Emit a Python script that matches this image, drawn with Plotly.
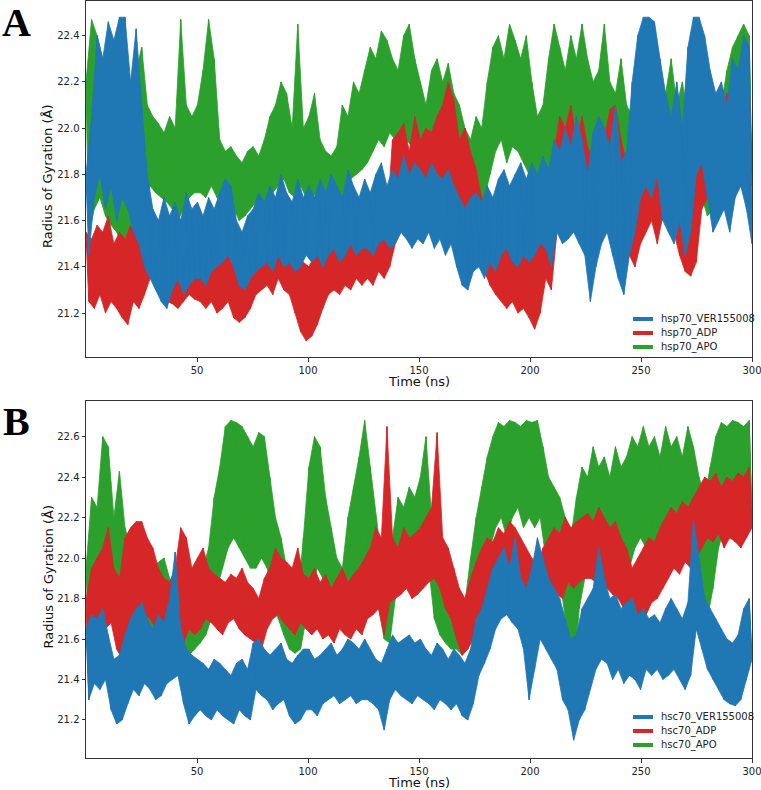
import plotly.graph_objects as go

# ---------------- DATA (envelope, 2.5 ns windows, 0-300 ns) ----------------
# Panel A (hsp70)
a_ver_hi = [21.80, 22.05, 22.40, 22.30, 22.46, 22.38, 22.48, 22.48, 22.20, 22.43,
            22.10, 21.80, 21.65, 21.60, 21.70, 21.62, 21.68, 21.60, 21.72, 21.65,
            21.68, 21.62, 21.70, 21.65, 21.72, 21.78, 21.75, 21.60, 21.55, 21.62,
            21.65, 21.72, 21.68, 21.75, 21.70, 21.80, 21.72, 21.68, 21.78, 21.70,
            21.75, 21.70, 21.78, 21.72, 21.80, 21.75, 21.70, 21.82, 21.75, 21.70,
            21.78, 21.72, 21.80, 21.85, 21.75, 21.82, 21.78, 21.88, 21.80, 21.85,
            21.82, 21.78, 21.85, 21.80, 21.78, 21.82, 21.75, 21.70, 21.65, 21.70,
            21.72, 21.68, 21.75, 21.70, 21.78, 21.82, 21.75, 21.80, 21.85, 21.78,
            21.85, 21.80, 21.88, 21.82, 21.95, 21.90, 22.00, 21.92, 22.05, 21.95,
            21.80, 21.98, 22.05, 22.00, 21.92, 22.10, 21.85, 21.90, 22.20, 22.40,
            22.48, 22.48, 22.46, 22.30, 22.15, 22.05, 22.20, 22.00, 22.35, 22.48,
            22.48, 22.40, 22.25, 22.15, 22.20, 22.10, 22.30, 22.25, 22.40, 22.35]
a_ver_lo = [21.45, 21.70, 21.80, 21.65, 21.75, 21.60, 21.70, 21.65, 21.55, 21.50,
            21.40, 21.35, 21.30, 21.25, 21.22, 21.30, 21.35, 21.28, 21.32, 21.35,
            21.35, 21.32, 21.38, 21.40, 21.42, 21.45, 21.40, 21.32, 21.30, 21.35,
            21.38, 21.40, 21.42, 21.38, 21.45, 21.40, 21.42, 21.38, 21.40, 21.45,
            21.42, 21.45, 21.40, 21.45, 21.48, 21.42, 21.45, 21.50, 21.45, 21.48,
            21.48, 21.45, 21.50, 21.52, 21.48, 21.50, 21.55, 21.52, 21.48, 21.52,
            21.50, 21.55, 21.48, 21.52, 21.45, 21.50, 21.40, 21.32, 21.30, 21.38,
            21.40, 21.35, 21.42, 21.38, 21.45, 21.48, 21.42, 21.40, 21.45, 21.42,
            21.45, 21.50, 21.48, 21.40, 21.55, 21.50, 21.52, 21.55, 21.50, 21.45,
            21.25, 21.40, 21.50, 21.55, 21.45, 21.35, 21.28, 21.45, 21.55, 21.70,
            21.75, 21.70, 21.80, 21.60, 21.55, 21.50, 21.60, 21.45, 21.55, 21.80,
            21.85, 21.70, 21.55, 21.60, 21.65, 21.55, 21.70, 21.75, 21.65, 21.50]

a_adp_hi = [21.55, 21.52, 21.58, 21.55, 21.62, 21.50, 21.55, 21.52, 21.58, 21.55,
            21.60, 21.65, 21.62, 21.55, 21.50, 21.48, 21.52, 21.50, 21.62, 21.55,
            21.52, 21.48, 21.50, 21.45, 21.48, 21.52, 21.42, 21.45, 21.40, 21.48,
            21.52, 21.55, 21.60, 21.58, 21.65, 21.60, 21.55, 21.58, 21.45, 21.42,
            21.40, 21.45, 21.48, 21.52, 21.55, 21.50, 21.55, 21.52, 21.58, 21.55,
            21.60, 21.55, 21.58, 21.62, 21.60, 21.95, 21.98, 22.02, 21.90, 22.05,
            21.95, 22.00, 21.98, 22.05, 22.10, 22.20, 22.12, 21.95, 22.00, 21.90,
            21.82, 21.70, 21.65, 21.60, 21.55, 21.50, 21.52, 21.48, 21.55, 21.50,
            21.45, 21.50, 21.62, 21.60, 21.90, 22.05, 22.00, 22.10, 21.95, 22.05,
            21.92, 21.85, 21.90, 21.95, 22.08, 22.10, 21.95, 21.85, 21.80, 21.95,
            21.90, 21.95, 21.85, 21.98, 21.90, 21.92, 21.80, 21.85, 21.75, 21.80,
            21.95, 22.05, 22.00, 22.10, 22.05, 22.15, 22.10, 22.20, 22.25, 22.20]
a_adp_lo = [21.25, 21.22, 21.28, 21.20, 21.25, 21.22, 21.18, 21.15, 21.25, 21.22,
            21.28, 21.35, 21.38, 21.28, 21.25, 21.24, 21.22, 21.25, 21.28, 21.26,
            21.25, 21.22, 21.25, 21.20, 21.22, 21.25, 21.18, 21.16, 21.18, 21.22,
            21.28, 21.30, 21.32, 21.28, 21.35, 21.30, 21.28, 21.20, 21.12, 21.08,
            21.10, 21.15, 21.22, 21.28, 21.30, 21.28, 21.32, 21.30, 21.35, 21.32,
            21.35, 21.32, 21.38, 21.35, 21.40, 21.50, 21.55, 21.58, 21.55, 21.60,
            21.58, 21.55, 21.60, 21.62, 21.55, 21.60, 21.65, 21.58, 21.55, 21.50,
            21.42, 21.38, 21.32, 21.28, 21.25, 21.22, 21.25, 21.20, 21.22, 21.18,
            21.13, 21.20, 21.35, 21.30, 21.55, 21.62, 21.58, 21.60, 21.55, 21.62,
            21.58, 21.55, 21.60, 21.55, 21.62, 21.60, 21.55, 21.45, 21.40, 21.50,
            21.55, 21.60, 21.50, 21.62, 21.58, 21.55, 21.45, 21.38, 21.36, 21.42,
            21.65, 21.70, 21.72, 21.75, 21.70, 21.78, 21.80, 21.82, 21.85, 21.80]

a_apo_hi = [22.20, 22.47, 22.40, 22.30, 22.25, 22.20, 22.15, 22.30, 22.10, 22.25,
            22.35, 22.10, 22.05, 22.02, 21.98, 22.05, 22.00, 22.47, 22.10, 22.05,
            22.10, 22.25, 22.47, 22.30, 21.95, 21.90, 21.92, 21.88, 21.85, 21.90,
            21.92, 21.88, 21.95, 22.05, 22.10, 22.20, 22.15, 22.00, 22.45, 22.00,
            22.05, 22.15, 21.95, 21.90, 21.88, 21.92, 22.10, 22.05, 22.20, 22.15,
            22.25, 22.35, 22.30, 22.42, 22.38, 22.30, 22.25, 22.40, 22.45, 22.30,
            22.20, 22.10, 22.25, 22.30, 22.20, 22.28, 22.15, 22.10, 22.00, 21.95,
            22.05, 22.00, 22.20, 22.35, 22.40, 22.30, 22.45, 22.38, 22.30, 22.40,
            22.20, 22.05, 22.10, 22.30, 22.45, 22.35, 22.25, 22.40, 22.30, 22.45,
            22.30, 22.20, 22.25, 22.45, 22.20, 22.15, 22.30, 22.10, 22.05, 22.20,
            22.45, 22.30, 22.25, 22.20, 22.15, 22.30, 22.10, 22.20, 22.05, 22.25,
            22.20, 22.10, 22.15, 22.00, 22.10, 22.25, 22.35, 22.40, 22.45, 22.40]
a_apo_lo = [21.55, 21.65, 21.70, 21.62, 21.58, 21.55, 21.50, 21.55, 21.60, 21.65,
            21.70, 21.75, 21.72, 21.70, 21.68, 21.65, 21.60, 21.65, 21.70, 21.72,
            21.72, 21.70, 21.75, 21.70, 21.65, 21.62, 21.65, 21.60, 21.62, 21.65,
            21.68, 21.65, 21.70, 21.72, 21.75, 21.78, 21.72, 21.70, 21.75, 21.70,
            21.70, 21.72, 21.68, 21.62, 21.60, 21.65, 21.75, 21.78, 21.80, 21.82,
            21.85, 21.90, 21.95, 21.92, 21.98, 21.95, 21.90, 21.95, 21.92, 21.88,
            21.80, 21.78, 21.85, 21.90, 21.82, 21.88, 21.80, 21.72, 21.70, 21.68,
            21.65, 21.70, 21.80, 21.90, 21.95, 21.85, 21.92, 21.90, 21.85, 21.80,
            21.70, 21.62, 21.68, 21.80, 21.85, 21.82, 21.78, 21.85, 21.80, 21.82,
            21.75, 21.72, 21.70, 21.78, 21.68, 21.70, 21.72, 21.65, 21.62, 21.68,
            21.70, 21.65, 21.72, 21.68, 21.62, 21.70, 21.60, 21.65, 21.70, 21.68,
            21.70, 21.62, 21.65, 21.68, 21.70, 21.72, 21.80, 21.78, 21.85, 21.75]

# Panel B (hsc70)
b_ver_hi = [21.65, 21.72, 21.70, 21.75, 21.62, 21.50, 21.52, 21.62, 21.70, 21.75,
            21.78, 21.70, 21.65, 21.72, 21.68, 21.80, 22.03, 21.65, 21.55, 21.52,
            21.50, 21.48, 21.45, 21.50, 21.48, 21.45, 21.42, 21.48, 21.50, 21.45,
            21.58, 21.60, 21.55, 21.52, 21.55, 21.58, 21.50, 21.48, 21.52, 21.55,
            21.55, 21.50, 21.52, 21.55, 21.58, 21.52, 21.55, 21.60, 21.58, 21.55,
            21.60, 21.55, 21.50, 21.48, 21.55, 21.62, 21.58, 21.60, 21.62, 21.58,
            21.60, 21.55, 21.52, 21.58, 21.55, 21.50, 21.55, 21.52, 21.48, 21.55,
            21.70, 21.75, 21.85, 21.95, 22.00, 22.05, 21.95, 22.10, 21.90, 21.85,
            21.95, 22.10, 22.00, 21.90, 21.85, 21.80, 21.70, 21.60, 21.62, 21.75,
            21.80, 21.85, 22.05, 21.90, 21.80, 21.82, 21.75, 21.78, 21.80, 21.72,
            21.75, 21.70, 21.72, 21.68, 21.75, 21.80, 21.75, 21.70, 21.78, 22.19,
            22.00, 21.80, 21.75, 21.70, 21.65, 21.60, 21.58, 21.62, 21.75, 21.80]
b_ver_lo = [21.30, 21.38, 21.35, 21.40, 21.25, 21.18, 21.20, 21.28, 21.35, 21.32,
            21.38, 21.35, 21.30, 21.32, 21.38, 21.40, 21.42, 21.28, 21.18, 21.22,
            21.25, 21.22, 21.20, 21.25, 21.22, 21.20, 21.18, 21.25, 21.22, 21.20,
            21.35, 21.32, 21.30, 21.25, 21.28, 21.30, 21.22, 21.18, 21.20, 21.25,
            21.25, 21.22, 21.28, 21.30, 21.32, 21.28, 21.30, 21.32, 21.28, 21.30,
            21.30, 21.28, 21.25, 21.15, 21.30, 21.35, 21.32, 21.30, 21.28, 21.32,
            21.30, 21.28, 21.25, 21.30, 21.28, 21.25, 21.28, 21.22, 21.20, 21.28,
            21.42, 21.48, 21.55, 21.65, 21.70, 21.72, 21.68, 21.65, 21.55, 21.30,
            21.45, 21.60, 21.55, 21.50, 21.45, 21.30, 21.25, 21.10, 21.20, 21.25,
            21.35, 21.45, 21.50, 21.48, 21.40, 21.45, 21.38, 21.42, 21.40, 21.35,
            21.45, 21.42, 21.45, 21.40, 21.42, 21.45, 21.40, 21.35, 21.42, 21.65,
            21.55, 21.45, 21.40, 21.35, 21.30, 21.28, 21.27, 21.30, 21.40, 21.50]

b_adp_hi = [21.80, 21.95, 22.00, 22.05, 22.15, 21.95, 21.90, 22.10, 22.15, 22.18,
            22.18, 22.10, 22.05, 21.95, 21.90, 21.88, 21.95, 22.15, 22.10, 21.95,
            22.00, 22.05, 21.95, 21.92, 21.90, 21.88, 21.92, 21.90, 21.95, 21.88,
            21.85, 21.80, 21.90, 21.95, 22.05, 22.00, 21.98, 21.95, 22.05, 21.92,
            21.90, 21.95, 21.88, 21.92, 21.85, 21.90, 21.95, 21.88, 21.92, 21.95,
            22.00, 22.05, 22.15, 22.10, 22.65, 22.10, 22.05, 22.15, 22.10, 22.12,
            22.15, 22.20, 22.25, 22.62, 22.10, 22.05, 21.95, 21.85, 21.80, 21.90,
            21.98, 22.05, 22.10, 22.08, 22.15, 22.12, 22.18, 22.15, 22.10, 22.05,
            22.00, 21.95, 22.05, 22.10, 22.15, 22.12, 22.20, 22.15, 22.18, 22.20,
            22.22, 22.18, 22.25, 22.20, 22.15, 22.18, 22.10, 22.05, 21.95, 22.00,
            22.05, 22.10, 22.08, 22.15, 22.20, 22.25, 22.22, 22.28, 22.25, 22.30,
            22.35, 22.40, 22.38, 22.42, 22.35, 22.40, 22.38, 22.42, 22.40, 22.45]
b_adp_lo = [21.30, 21.62, 21.70, 21.65, 21.68, 21.55, 21.50, 21.65, 21.72, 21.75,
            21.72, 21.70, 21.65, 21.60, 21.55, 21.60, 21.62, 21.58, 21.65, 21.62,
            21.65, 21.70, 21.68, 21.65, 21.62, 21.68, 21.70, 21.65, 21.62, 21.60,
            21.58, 21.55, 21.65, 21.70, 21.72, 21.68, 21.65, 21.62, 21.68, 21.65,
            21.62, 21.65, 21.60, 21.62, 21.58, 21.65, 21.62, 21.60, 21.65, 21.62,
            21.70, 21.72, 21.75, 21.62, 21.78, 21.80, 21.82, 21.85, 21.80, 21.82,
            21.85, 21.88, 21.90, 21.85, 21.75, 21.70, 21.60, 21.52, 21.55, 21.60,
            21.70, 21.75, 21.80, 21.78, 21.82, 21.85, 21.88, 21.85, 21.80, 21.75,
            21.72, 21.65, 21.70, 21.78, 21.82, 21.80, 21.88, 21.85, 21.88, 21.90,
            21.90, 21.88, 21.92, 21.85, 21.82, 21.80, 21.75, 21.70, 21.65, 21.70,
            21.72, 21.78, 21.80, 21.85, 21.90, 21.95, 21.92, 21.98, 21.95, 22.00,
            22.05, 22.10, 22.08, 22.12, 22.05, 22.10, 22.08, 22.05, 22.10, 22.15]

b_apo_hi = [21.95, 22.30, 22.25, 22.60, 22.55, 22.20, 22.43, 22.15, 22.05, 22.10,
            22.05, 22.00, 21.95, 21.98, 22.00, 21.90, 21.85, 21.80, 21.78, 21.75,
            21.80, 21.95, 22.05, 22.30, 22.45, 22.65, 22.68, 22.67, 22.65, 22.60,
            22.55, 22.62, 22.60, 22.40, 22.20, 22.10, 21.95, 21.85, 21.80, 22.10,
            22.45, 22.60, 22.55, 22.30, 22.15, 22.00, 21.95, 22.20, 22.35, 22.50,
            22.68, 22.45, 22.20, 22.00, 21.85, 22.10, 22.30, 22.25, 22.35, 22.30,
            22.40, 22.60, 22.20, 22.05, 21.95, 21.90, 21.85, 21.75, 21.78, 22.00,
            22.20, 22.35, 22.50, 22.60, 22.67, 22.65, 22.68, 22.67, 22.65, 22.68,
            22.67, 22.68, 22.55, 22.40, 22.35, 22.30, 22.20, 22.10, 22.30, 22.45,
            22.40, 22.55, 22.45, 22.50, 22.40, 22.55, 22.45, 22.50, 22.60, 22.55,
            22.65, 22.55, 22.60, 22.50, 22.65, 22.55, 22.60, 22.50, 22.65, 22.55,
            22.40, 22.30, 22.45, 22.60, 22.67, 22.65, 22.68, 22.67, 22.65, 22.68]
b_apo_lo = [21.60, 21.75, 21.80, 21.85, 21.80, 21.70, 21.65, 21.60, 21.62, 21.65,
            21.62, 21.60, 21.65, 21.62, 21.58, 21.55, 21.52, 21.50, 21.52, 21.55,
            21.58, 21.62, 21.70, 21.85, 21.95, 22.05, 22.10, 22.05, 22.00, 21.95,
            21.95, 22.00, 21.95, 21.80, 21.70, 21.62, 21.55, 21.53, 21.55, 21.70,
            21.85, 21.95, 21.90, 21.80, 21.70, 21.68, 21.72, 21.80, 21.85, 21.90,
            21.95, 21.85, 21.75, 21.60, 21.58, 21.80, 21.90, 21.88, 21.92, 21.85,
            21.90, 21.95, 21.70, 21.62, 21.58, 21.55, 21.55, 21.52, 21.55, 21.70,
            21.85, 21.95, 22.05, 22.15, 22.20, 22.10, 22.20, 22.25, 22.15, 22.20,
            22.15, 22.20, 22.00, 21.90, 21.85, 21.80, 21.60, 21.40, 21.75, 21.90,
            21.90, 21.95, 21.92, 22.00, 21.95, 22.05, 22.00, 21.95, 22.05, 22.10,
            22.05, 22.00, 22.10, 22.05, 22.00, 22.05, 22.10, 22.00, 22.05, 22.10,
            21.80, 21.70, 21.85, 22.05, 22.15, 22.10, 22.20, 22.15, 22.10, 22.20]

names_a = ["hsp70_VER155008", "hsp70_ADP", "hsp70_APO"]
names_b = ["hsc70_VER155008", "hsc70_ADP", "hsc70_APO"]
colors = ["#1f77b4", "#d62728", "#2ca02c"]
x_ticks = [50, 100, 150, 200, 250, 300]
y_ticks_a = [21.2, 21.4, 21.6, 21.8, 22.0, 22.2, 22.4]
y_ticks_b = [21.2, 21.4, 21.6, 21.8, 22.0, 22.2, 22.4, 22.6]
T_END = 300.0

# ---------------- FIGURE ----------------
W, H = 761, 790
FONT = "DejaVu Sans"


def band(hi, lo):
    """Closed outline of the fluctuation band: maxima forward, minima back."""
    n = len(hi)
    step = T_END / (n - 0.5)
    t_hi = [i * step for i in range(n)]
    t_lo = [(i + 0.5) * step for i in range(n)]
    xs = t_hi + t_lo[::-1]
    ys = list(hi) + list(lo)[::-1]
    return xs, ys


def zigzag(hi, lo):
    n = len(hi)
    step = T_END / (n - 0.5)
    xs, ys = [], []
    for i, (h, l) in enumerate(zip(hi, lo)):
        xs += [i * step, (i + 0.5) * step]
        ys += [h, l]
    return xs, ys


fig = go.Figure()
series = [
    ("x", "y", names_a, [(a_ver_hi, a_ver_lo), (a_adp_hi, a_adp_lo), (a_apo_hi, a_apo_lo)]),
    ("x2", "y2", names_b, [(b_ver_hi, b_ver_lo), (b_adp_hi, b_adp_lo), (b_apo_hi, b_apo_lo)]),
]
for xa, ya, names, data in series:
    for k in [2, 1, 0]:  # draw APO, ADP, then VER on top
        bx, by = band(*data[k])
        fig.add_trace(go.Scatter(x=bx, y=by, mode="lines", fill="toself",
                                 fillcolor=colors[k], name=names[k],
                                 line=dict(color=colors[k], width=0.8),
                                 xaxis=xa, yaxis=ya, showlegend=False,
                                 hoverinfo="skip"))
        zx, zy = zigzag(*data[k])
        fig.add_trace(go.Scatter(x=zx, y=zy, mode="lines", name=names[k],
                                 line=dict(color=colors[k], width=1.0),
                                 xaxis=xa, yaxis=ya, showlegend=False,
                                 hoverinfo="skip"))


def px_x(p):
    return p / W


def px_y(p):
    return 1 - p / H


axis_common = dict(showline=True, linecolor="#333", linewidth=1, mirror=True,
                   ticks="outside", ticklen=3.5, tickcolor="#333", tickwidth=1,
                   showgrid=False, zeroline=False, ticklabeloverflow="allow",
                   automargin=False,
                   tickfont=dict(family=FONT, size=10, color="#222"))

A_top, A_bot = 1, 357
B_top, B_bot = 401, 758
L, R = 86, 752

fig.update_layout(
    width=W, height=H, margin=dict(l=0, r=0, t=0, b=0, autoexpand=False),
    paper_bgcolor="white", plot_bgcolor="white", showlegend=False,
    xaxis=dict(domain=[px_x(L), px_x(R)], range=[0, 300], tickvals=x_ticks,
               anchor="y", **axis_common),
    yaxis=dict(domain=[px_y(A_bot), px_y(A_top)], range=[21.01, 22.55],
               tickvals=y_ticks_a, ticktext=[f"{v:.1f}" for v in y_ticks_a],
               anchor="x", **axis_common),
    xaxis2=dict(domain=[px_x(L), px_x(R)], range=[0, 300], tickvals=x_ticks,
                anchor="y2", **axis_common),
    yaxis2=dict(domain=[px_y(B_bot), px_y(B_top)], range=[21.012, 22.776],
                tickvals=y_ticks_b, ticktext=[f"{v:.1f}" for v in y_ticks_b],
                anchor="x2", **axis_common),
)

ann = []
shapes = []
for top, bot, label, names, leg_y in [(A_top, A_bot, "A", names_a, [319, 333, 347]),
                                       (B_top, B_bot, "B", names_b, [717, 731, 745])]:
    mid = (top + bot) / 2
    ann.append(dict(text="Radius of Gyration (Å)", textangle=-90, x=px_x(48), y=px_y(mid - 3),
                    xref="paper", yref="paper", showarrow=False, xanchor="center", yanchor="middle",
                    font=dict(family=FONT, size=13, color="#111")))
    ann.append(dict(text="Time (ns)", x=px_x((L + R) / 2), y=px_y(bot + 24),
                    xref="paper", yref="paper", showarrow=False, xanchor="center", yanchor="middle",
                    font=dict(family=FONT, size=13, color="#111")))
    ann.append(dict(text=f"<b>{label}</b>", x=px_x(16), y=px_y(top + 21),
                    xref="paper", yref="paper", showarrow=False, xanchor="center", yanchor="middle",
                    font=dict(family="Liberation Serif", size=40, color="black")))
    for k in range(3):
        yy = px_y(leg_y[k])
        shapes.append(dict(type="line", xref="paper", yref="paper",
                           x0=px_x(633), x1=px_x(653), y0=yy, y1=yy,
                           line=dict(color=colors[k], width=4)))
        ann.append(dict(text=names[k], x=px_x(659), y=yy, xref="paper", yref="paper",
                        showarrow=False, xanchor="left", yanchor="middle",
                        font=dict(family=FONT, size=10, color="#222")))

fig.update_layout(annotations=ann, shapes=shapes)
fig.write_html("out.html")
